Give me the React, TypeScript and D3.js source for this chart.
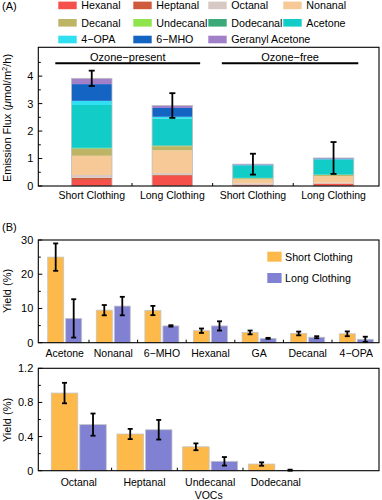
import React from "react";
import * as d3 from "d3";

// ---------- Panel A data ----------
const barLabelsA = ["Short Clothing", "Long Clothing", "Short Clothing", "Long Clothing"];
const compounds = ["Hexanal", "Heptanal", "Octanal", "Nonanal", "Decanal", "Undecanal", "Dodecanal", "Acetone", "4−OPA", "6−MHO", "Geranyl Acetone"];
const compoundColors = ["#F5504A", "#CF5B3C", "#D8C8C4", "#F6C996", "#BDB565", "#8FE34C", "#3BAA78", "#12CCC8", "#30DFF0", "#1464C4", "#A27FC9"];
const hexanal = [0.22, 0.37, 0.03, 0.08];
const heptanal = [0.08, 0.03, 0.02, 0.01];
const octanal = [0.10, 0.07, 0.05, 0.03];
const nonanal = [0.70, 0.83, 0.14, 0.24];
const decanal = [0.25, 0.15, 0.04, 0.04];
const undecanal = [0.02, 0.01, 0.005, 0.005];
const dodecanal = [0.02, 0.02, 0.01, 0.01];
const acetone = [1.56, 0.97, 0.45, 0.55];
const opa = [0.15, 0.07, 0.01, 0.01];
const mho = [0.61, 0.32, 0.03, 0.03];
const geranyl = [0.21, 0.09, 0.01, 0.015];
const errA = [0.28, 0.45, 0.38, 0.58];
const groupLabels = ["Ozone−present", "Ozone−free"];
const ticksA = [0, 1, 2, 3, 4];

// ---------- Panel B data ----------
const catB1 = ["Acetone", "Nonanal", "6−MHO", "Hexanal", "GA", "Decanal", "4−OPA"];
const shortB1 = [25, 9.5, 9.4, 3.5, 3.0, 2.7, 2.6];
const shortErrB1 = [4.0, 1.5, 1.35, 0.65, 0.55, 0.55, 0.7];
const longB1 = [7.1, 10.7, 4.9, 4.9, 1.27, 1.6, 1.0];
const longErrB1 = [5.6, 2.7, 0.2, 1.35, 0.15, 0.3, 0.75];
const ticksB1 = [0, 10, 20, 30];

const catB2 = ["Octanal", "Heptanal", "Undecanal", "Dodecanal"];
const shortB2 = [0.91, 0.43, 0.28, 0.078];
const shortErrB2 = [0.12, 0.06, 0.04, 0.02];
const longB2 = [0.54, 0.48, 0.11, 0.004];
const longErrB2 = [0.13, 0.115, 0.05, 0.008];
const ticksB2 = [0, 0.4, 0.8, 1.2];
const ticksB2Labels = ["0", "0.4", "0.8", "1.2"];

const seriesNames = ["Short Clothing", "Long Clothing"];
const seriesColors = ["#FDB94A", "#8181D4"];

const FONT = "'Liberation Sans', Arial, Helvetica, sans-serif";

function ErrorBar({ x, y0, y1, cap = 3 }: { x: number; y0: number; y1: number; cap?: number }) {
  return (
    <g stroke="#000" strokeWidth={1.8}>
      <line x1={x} x2={x} y1={y0} y2={y1} />
      <line x1={x - cap} x2={x + cap} y1={y0} y2={y0} />
      <line x1={x - cap} x2={x + cap} y1={y1} y2={y1} />
    </g>
  );
}

function YAxis({ y, left, ticks, labels, minor }: any) {
  return (
    <g>
      {minor.map((t: number, i: number) => (
        <line key={"m" + i} x1={left} x2={left + 2.5} y1={y(t)} y2={y(t)} stroke="#000" strokeWidth={1} />
      ))}
      {ticks.map((t: number, i: number) => (
        <g key={i}>
          <line x1={left} x2={left + 4} y1={y(t)} y2={y(t)} stroke="#000" strokeWidth={1} />
          <text x={left - 5} y={y(t)} dy="0.36em" textAnchor="end" fontSize={11}>
            {labels ? labels[i] : String(t)}
          </text>
        </g>
      ))}
    </g>
  );
}

export default function App() {
  const W = 382, H = 500;

  // ---- Panel A ----
  const aL = 38.3, aR = 379, aT = 47.3, aB = 186;
  const xA = d3.scaleLinear().domain([0.337, 4.564]).range([aL, aR]);
  const yA = d3.scaleLinear().domain([0, 5.05]).range([aB, aT]);
  const layers = [hexanal, heptanal, octanal, nonanal, decanal, undecanal, dodecanal, acetone, opa, mho, geranyl];
  const tableA = barLabelsA.map((_, i) => {
    const row: any = { idx: i };
    compounds.forEach((c, k) => (row[c] = layers[k][i]));
    return row;
  });
  const stackA = d3.stack().keys(compounds)(tableA);
  const totalsA = barLabelsA.map((_, i) => layers.reduce((s, l) => s + l[i], 0));
  const bwA = 40.5;
  const minorA = d3.range(0.5, 5, 1);

  // ---- Panel B1 ----
  const b1L = 38.3, b1R = 379, b1T = 240, b1B = 342.7;
  const xB1 = d3.scaleLinear().domain([0.457, 7.467]).range([b1L, b1R]);
  const yB1 = d3.scaleLinear().domain([0, 30]).range([b1B, b1T]);
  const bwB1 = 16, gapB1 = 1;
  const minorB1 = [5, 15, 25];

  // ---- Panel B2 ----
  const b2L = 38.3, b2R = 379, b2T = 368.3, b2B = 470.7;
  const xB2 = d3.scaleLinear().domain([0.384, 5.57]).range([b2L, b2R]);
  const yB2 = d3.scaleLinear().domain([0, 1.2]).range([b2B, b2T]);
  const bwB2 = 26.5, gapB2 = 1;
  const minorB2 = [0.2, 0.6, 1.0];

  const legendCols = [58.3, 133.3, 208.3, 283.3];
  const legendRows = [5.4, 22.8, 39.5];

  const renderPairs = (cats: string[], vals: number[][], errs: number[][], x: any, y: any, bw: number, gap: number, cap: number) =>
    cats.map((c, i) => {
      const cx = x(i + 1);
      return (
        <g key={c}>
          {[0, 1].map((s) => {
            const x0 = s === 0 ? cx - gap - bw : cx + gap;
            const v = vals[s][i];
            return (
              <rect key={s} x={x0} y={y(v)} width={bw} height={y(0) - y(v)} fill={seriesColors[s]} stroke="#C4C4C4" strokeWidth={0.8} />
            );
          })}
          {[0, 1].map((s) => {
            const xc = s === 0 ? cx - gap - bw / 2 : cx + gap + bw / 2;
            const v = vals[s][i], e = errs[s][i];
            return <ErrorBar key={"e" + s} x={xc} y0={y(v + e)} y1={y(Math.max(0, v - e))} cap={cap} />;
          })}
        </g>
      );
    });

  return (
    <svg width={W} height={H} style={{ display: "block", position: "absolute", left: 0, top: 0 }} fontFamily={FONT}>
      <rect width={W} height={H} fill="#fff" />
      {/* ----- Panel A ----- */}
      <text x={2} y={10} fontSize={11}>(A)</text>
      {compounds.map((c, k) => {
        const col = k % 4, row = Math.floor(k / 4);
        return (
          <g key={c}>
            <rect x={legendCols[col]} y={legendRows[row] - 3.8} width={18.4} height={7.6} fill={compoundColors[k]} />
            <text x={legendCols[col] + 23} y={legendRows[row]} dy="0.36em" fontSize={10.7}>{c}</text>
          </g>
        );
      })}
      {stackA.map((layer, k) => (
        <g key={k} fill={compoundColors[k]}>
          {layer.map((d, i) => (
            <rect key={i} x={xA(i + 1) - bwA / 2} y={yA(d[1])} width={bwA} height={Math.max(0, yA(d[0]) - yA(d[1]))} />
          ))}
        </g>
      ))}
      {totalsA.map((t, i) => (
        <rect key={"o" + i} x={xA(i + 1) - bwA / 2} y={yA(t)} width={bwA} height={yA(0) - yA(t)} fill="none" stroke="#BDBDBD" strokeWidth={0.8} />
      ))}
      {totalsA.map((t, i) => (
        <ErrorBar key={"ea" + i} x={xA(i + 1)} y0={yA(t + errA[i])} y1={yA(t - errA[i])} cap={3} />
      ))}
      {/* group labels */}
      <line x1={xA(0.548)} x2={xA(2.345)} y1={63.3} y2={63.3} stroke="#000" strokeWidth={2} />
      <line x1={xA(2.614)} x2={xA(4.307)} y1={63.3} y2={63.3} stroke="#000" strokeWidth={2} />
      <text x={(xA(0.548) + xA(2.345)) / 2} y={61} textAnchor="middle" fontSize={11}>{groupLabels[0]}</text>
      <text x={(xA(2.614) + xA(4.307)) / 2} y={61} textAnchor="middle" fontSize={11}>{groupLabels[1]}</text>
      {[1.5, 2.5, 3.5].map((t) => (
        <line key={t} x1={xA(t)} x2={xA(t)} y1={aB} y2={aB - 3} stroke="#000" strokeWidth={1} />
      ))}
      <rect x={aL} y={aT} width={aR - aL} height={aB - aT} fill="none" stroke="#000" strokeWidth={1.1} />
      <YAxis y={yA} left={aL} ticks={ticksA} minor={minorA} />
      {barLabelsA.map((l, i) => (
        <text key={i} x={xA(i + 1)} y={199} textAnchor="middle" fontSize={10.5}>{l}</text>
      ))}
      <text transform={`translate(11,118) rotate(-90)`} textAnchor="middle" fontSize={11}>
        Emission Flux (<tspan fontStyle="italic">μ</tspan>mol/m<tspan dy={-4} fontSize={7.5}>2</tspan><tspan dy={4}>/h)</tspan>
      </text>

      {/* ----- Panel B top ----- */}
      <text x={2} y={231} fontSize={11}>(B)</text>
      {renderPairs(catB1, [shortB1, longB1], [shortErrB1, longErrB1], xB1, yB1, bwB1, gapB1, 2.5)}
      {d3.range(1.5, 7, 1).map((t) => (
        <line key={t} x1={xB1(t)} x2={xB1(t)} y1={b1B} y2={b1B - 3} stroke="#000" strokeWidth={1} />
      ))}
      <rect x={b1L} y={b1T} width={b1R - b1L} height={b1B - b1T} fill="none" stroke="#000" strokeWidth={1.1} />
      <YAxis y={yB1} left={b1L} ticks={ticksB1} minor={minorB1} />
      {catB1.map((c, i) => (
        <text key={c} x={xB1(i + 1)} y={357} textAnchor="middle" fontSize={10.5}>{c}</text>
      ))}
      <text transform={`translate(11,291) rotate(-90)`} textAnchor="middle" fontSize={11}>Yield (%)</text>
      {seriesNames.map((s, i) => (
        <g key={s}>
          <rect x={267.3} y={251.7 + i * 21.3} width={14.3} height={10} fill={seriesColors[i]} />
          <text x={285} y={256.7 + i * 21.3} dy="0.36em" fontSize={10.7}>{s}</text>
        </g>
      ))}

      {/* ----- Panel B bottom ----- */}
      {renderPairs(catB2, [shortB2, longB2], [shortErrB2, longErrB2], xB2, yB2, bwB2, gapB2, 2.5)}
      {[1.5, 2.5, 3.5].map((t) => (
        <line key={t} x1={xB2(t)} x2={xB2(t)} y1={b2B} y2={b2B - 3} stroke="#000" strokeWidth={1} />
      ))}
      <rect x={b2L} y={b2T} width={b2R - b2L} height={b2B - b2T} fill="none" stroke="#000" strokeWidth={1.1} />
      <YAxis y={yB2} left={b2L} ticks={ticksB2} labels={ticksB2Labels} minor={minorB2} />
      {catB2.map((c, i) => (
        <text key={c} x={xB2(i + 1)} y={486} textAnchor="middle" fontSize={10.5}>{c}</text>
      ))}
      <text x={(b2L + b2R) / 2} y={499} textAnchor="middle" fontSize={10.5}>VOCs</text>
      <text transform={`translate(11,420) rotate(-90)`} textAnchor="middle" fontSize={11}>Yield (%)</text>
    </svg>
  );
}
